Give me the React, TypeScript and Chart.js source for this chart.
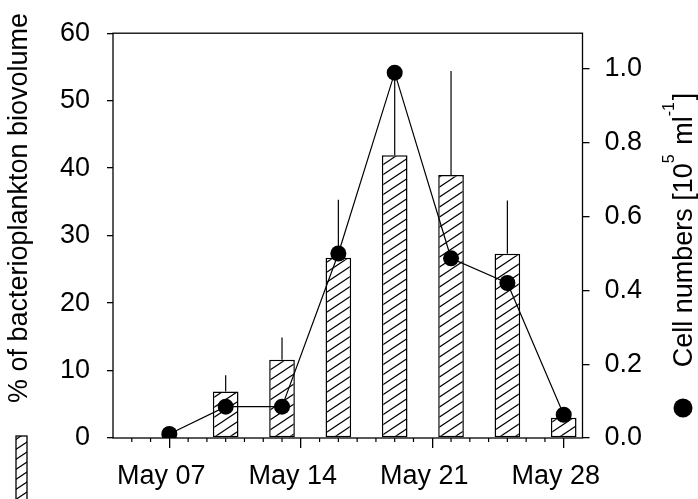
import React, { useEffect, useRef } from 'react';
import { Chart, registerables } from 'chart.js';

Chart.register(...registerables);

// ---- data ----
const pointDays = [7, 10, 13, 16, 19, 22, 25, 28];
const cellNumbers = [0.011, 0.085, 0.085, 0.5, 0.99, 0.487, 0.42, 0.063];
const barDays = [10, 13, 16, 19, 22, 25, 28];
const biovolume = [6.9, 11.6, 26.7, 41.9, 39.0, 27.3, 3.0];
const biovolumeErr = [2.4, 3.3, 8.6, 12.4, 15.4, 7.9, 0];
const xMajorDays = [7, 14, 21, 28];
const xTickLabels = ['May 07', 'May 14', 'May 21', 'May 28'];
const leftTicks = [0, 10, 20, 30, 40, 50, 60];
const rightTicks = [0, 0.2, 0.4, 0.6, 0.8, 1.0];
const xMinDay = 4;
const xMaxDay = 29;
const leftTitle = '% of bacterioplankton biovolume';
const rightTitleParts: [string, boolean][] = [
  ['Cell numbers [10', false],
  ['5', true],
  [' ml', false],
  ['-1', true],
  [']', false],
];

const FONT = '"Liberation Sans", Arial, sans-serif';
const W = 698;
const H = 499;

function makeHatch(): CanvasPattern | string {
  const w = 15, h = 10;
  const c = document.createElement('canvas');
  c.width = w; c.height = h;
  const g = c.getContext('2d');
  if (!g) return '#fff';
  g.fillStyle = '#fff';
  g.fillRect(0, 0, w, h);
  g.strokeStyle = '#000';
  g.lineWidth = 1.2;
  const offs = [[0, 0], [w, 0], [-w, 0], [0, h], [0, -h]];
  for (const [dx, dy] of offs) {
    g.beginPath();
    g.moveTo(dx, h + dy);
    g.lineTo(w + dx, dy);
    g.stroke();
  }
  return g.createPattern(c, 'repeat') || '#fff';
}

export default function App() {
  const ref = useRef<HTMLCanvasElement | null>(null);

  useEffect(() => {
    document.body.style.margin = '0';
    const canvas = ref.current;
    if (!canvas) return;
    const hatch = makeHatch();

    const overlay = {
      id: 'overlay',
      afterDatasetDraw(chart: any, args: any) {
        if (args.index !== 1) return;
        const ctx = chart.ctx;
        const y = chart.scales.y;
        ctx.save();
        ctx.strokeStyle = '#000';
        ctx.lineWidth = 1.2;
        args.meta.data.forEach((el: any, i: number) => {
          const err = biovolumeErr[i];
          if (!err) return;
          const top = y.getPixelForValue(biovolume[i] + err);
          ctx.beginPath();
          ctx.moveTo(el.x, el.y);
          ctx.lineTo(el.x, top);
          ctx.stroke();
        });
        ctx.restore();
      },
      afterDraw(chart: any) {
        const ctx = chart.ctx;
        const a = chart.chartArea;
        const x = chart.scales.x;
        ctx.save();
        ctx.strokeStyle = '#000';
        ctx.lineWidth = 1.3;
        ctx.strokeRect(a.left, a.top, a.right - a.left, a.bottom - a.top);
        // minor daily ticks
        ctx.lineWidth = 1.2;
        for (let d = xMinDay + 1; d < xMaxDay; d++) {
          if (xMajorDays.includes(d)) continue;
          const px = x.getPixelForValue(d);
          ctx.beginPath();
          ctx.moveTo(px, a.bottom);
          ctx.lineTo(px, a.bottom + 4);
          ctx.stroke();
        }
        ctx.fillStyle = '#000';
        // left title
        ctx.save();
        ctx.translate(27, 208);
        ctx.rotate(-Math.PI / 2);
        ctx.font = `27px ${FONT}`;
        ctx.textAlign = 'center';
        ctx.textBaseline = 'alphabetic';
        ctx.fillText(leftTitle, 0, 0);
        ctx.restore();
        // left legend hatch box
        ctx.save();
        ctx.fillStyle = hatch as any;
        ctx.fillRect(16, 436, 11, 70);
        ctx.lineWidth = 1.3;
        ctx.strokeRect(16, 436, 11, 70);
        ctx.restore();
        // right title
        ctx.save();
        ctx.textAlign = 'left';
        ctx.textBaseline = 'alphabetic';
        const mainFont = `27px ${FONT}`;
        const supFont = `16px ${FONT}`;
        let total = 0;
        for (const [txt, sup] of rightTitleParts) {
          ctx.font = sup ? supFont : mainFont;
          total += ctx.measureText(txt).width + (sup ? 2 : 0);
        }
        ctx.translate(691.5, 230 + total / 2);
        ctx.rotate(-Math.PI / 2);
        let cx = 0;
        for (const [txt, sup] of rightTitleParts) {
          ctx.font = sup ? supFont : mainFont;
          ctx.fillText(txt, cx, sup ? -18 : 0);
          cx += ctx.measureText(txt).width + (sup ? 2 : 0);
        }
        ctx.restore();
        // right legend dot
        ctx.beginPath();
        ctx.arc(683, 408, 9.5, 0, Math.PI * 2);
        ctx.fill();
        ctx.restore();
      },
    };

    const tickFont = { family: FONT, size: 27 };

    const chart = new Chart(canvas, {
      type: 'bar',
      data: {
        datasets: [
          {
            type: 'line',
            label: 'Cell numbers',
            data: pointDays.map((d, i) => ({ x: d, y: cellNumbers[i] })),
            yAxisID: 'y1',
            xAxisID: 'x',
            borderColor: '#000',
            borderWidth: 1.2,
            pointRadius: 8,
            pointBackgroundColor: '#000',
            pointBorderColor: '#000',
            pointBorderWidth: 0,
            fill: false,
            tension: 0,
          } as any,
          {
            type: 'bar',
            label: '% of bacterioplankton biovolume',
            data: barDays.map((d, i) => ({ x: d, y: biovolume[i] })),
            yAxisID: 'y',
            xAxisID: 'x',
            backgroundColor: hatch as any,
            borderColor: '#000',
            borderWidth: 1.5,
            borderSkipped: false,
            barPercentage: 0.455,
            categoryPercentage: 1,
          } as any,
        ],
      },
      options: {
        animation: false,
        responsive: true,
        maintainAspectRatio: false,
        events: [],
        layout: { padding: { top: 23.3, left: 0, right: 0, bottom: 0 } },
        plugins: { legend: { display: false }, tooltip: { enabled: false } },
        scales: {
          x: {
            type: 'linear',
            position: 'bottom',
            min: xMinDay,
            max: xMaxDay,
            offset: false,
            grid: {
              display: true,
              drawOnChartArea: false,
              drawTicks: true,
              tickLength: 10,
              color: '#000',
              lineWidth: 1.3,
              offset: false,
            },
            border: { display: false },
            ticks: {
              font: tickFont,
              color: '#000',
              padding: 12,
              labelOffset: -8,
              maxRotation: 0,
              autoSkip: false,
              callback: (v: any) => {
                const i = xMajorDays.indexOf(Number(v));
                return i >= 0 ? xTickLabels[i] : '';
              },
            },
            afterBuildTicks: (s: any) => {
              s.ticks = xMajorDays.map((v) => ({ value: v }));
            },
            afterFit: (s: any) => {
              s.height = 61;
            },
          } as any,
          y: {
            type: 'linear',
            position: 'left',
            min: 0,
            max: 60,
            grid: {
              drawOnChartArea: false,
              drawTicks: true,
              tickLength: 6,
              color: '#000',
              lineWidth: 1.3,
            },
            border: { display: false },
            ticks: { font: tickFont, color: '#000', padding: 17 },
            afterBuildTicks: (s: any) => {
              s.ticks = leftTicks.map((v) => ({ value: v }));
            },
            afterFit: (s: any) => {
              s.width = 113;
            },
          } as any,
          y1: {
            type: 'linear',
            position: 'right',
            min: 0,
            max: 1.097,
            grid: {
              drawOnChartArea: false,
              drawTicks: true,
              tickLength: 7,
              color: '#000',
              lineWidth: 1.3,
            },
            border: { display: false },
            ticks: {
              font: tickFont,
              color: '#000',
              padding: 15,
              callback: (v: any) => Number(v).toFixed(1),
            },
            afterBuildTicks: (s: any) => {
              s.ticks = rightTicks.map((v) => ({ value: v }));
            },
            afterFit: (s: any) => {
              s.width = W - 582.5;
            },
          } as any,
        },
      },
      plugins: [overlay as any],
    });

    return () => {
      chart.destroy();
    };
  }, []);

  return (
    <div style={{ position: 'relative', width: W + 'px', height: H + 'px', background: '#fff' }}>
      <canvas ref={ref} />
    </div>
  );
}
